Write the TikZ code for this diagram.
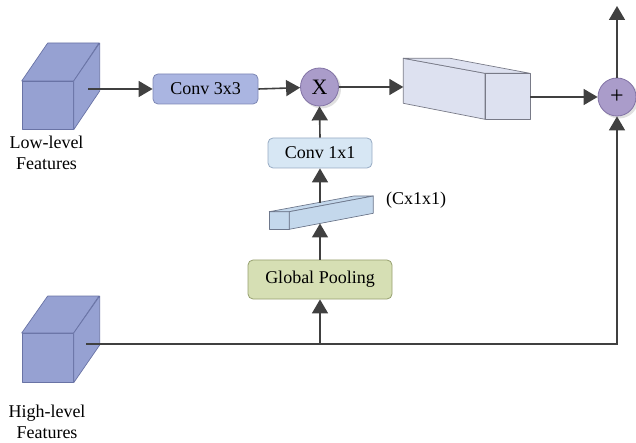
\documentclass[tikz,border=0pt]{standalone}
\usepackage{fontspec}
\setmainfont{Liberation Serif}
\usetikzlibrary{arrows.meta}
\definecolor{cubefill}{RGB}{150,161,210}
\definecolor{cubedraw}{RGB}{105,115,165}
\definecolor{convA}{RGB}{170,181,225}
\definecolor{convAd}{RGB}{125,135,180}
\definecolor{convB}{RGB}{215,231,244}
\definecolor{convBd}{RGB}{150,170,195}
\definecolor{gpfill}{RGB}{214,223,180}
\definecolor{gpdraw}{RGB}{150,160,110}
\definecolor{opfill}{RGB}{170,156,202}
\definecolor{opdraw}{RGB}{130,115,165}
\definecolor{blkfill}{RGB}{221,225,240}
\definecolor{blkdraw}{RGB}{120,122,135}
\definecolor{slabfill}{RGB}{196,216,236}
\definecolor{slabdraw}{RGB}{110,120,140}
\definecolor{arrcol}{RGB}{64,64,64}
\begin{document}
\begin{tikzpicture}[x=1pt,y=-1pt,
  every node/.style={font=\fontsize{18}{21}\selectfont},
  rbox/.style={draw, rounded corners=5pt, line width=0.8pt, inner sep=0pt},
  opcirc/.style={circle, draw=opdraw, fill=opfill, line width=0.8pt, minimum size=38pt, inner sep=0pt},
  arr/.style={draw=arrcol, line width=1.6pt, -{Triangle[length=14pt,width=16pt]}},
  plainln/.style={draw=arrcol, line width=1.6pt},
  cubeface/.style={fill=cubefill, draw=cubedraw, line width=0.7pt, line join=round},
  lbl/.style={align=center, inner sep=0pt}]
\useasboundingbox (0,0) rectangle (636,443);

% ---- low-level cube
\node[cubeface, minimum width=51.3pt, minimum height=48pt, inner sep=0pt, anchor=north west] (lowc) at (21.7,81) {};
\draw[cubeface] (lowc.north west) -- ++(26,-38) -- ++(51.3,0) -- (lowc.north east) -- cycle;
\draw[cubeface] (lowc.north east) -- ++(26,-38) -- ++(0,48) -- (lowc.south east) -- cycle;
\coordinate (lowout) at (88,89);
\node[lbl] (lowlbl) at (46.5,153) {Low-level\\Features};

% ---- high-level cube
\node[cubeface, minimum width=51.3pt, minimum height=49pt, inner sep=0pt, anchor=north west] (highc) at (21.7,333) {};
\draw[cubeface] (highc.north west) -- ++(26,-37) -- ++(51.3,0) -- (highc.north east) -- cycle;
\draw[cubeface] (highc.north east) -- ++(26,-37) -- ++(0,49) -- (highc.south east) -- cycle;
\coordinate (highout) at (86,344);
\node[lbl] (highlbl) at (47,422) {High-level\\Features};

% ---- boxes
\node[rbox, draw=convAd, fill=convA, minimum width=105pt, minimum height=30pt] (conv3) at (205.5,89) {Conv 3x3};
\node[rbox, draw=convBd, fill=convB, minimum width=104pt, minimum height=30pt] (conv1) at (320,153) {Conv 1x1};
\node[rbox, draw=gpdraw, fill=gpfill, minimum width=144pt, minimum height=39pt] (gp) at (320,279.5) {Global Pooling};

% ---- operators
\fill[black!12] (321.5,89) circle (19.5pt);
\node[opcirc, font=\fontsize{22}{24}\selectfont] (mul) at (319.5,87) {X};
\fill[black!12] (619,99) circle (19.5pt);
\node[opcirc, font=\fontsize{24}{24}\selectfont] (add) at (617,97) {+};

% ---- big feature block
\draw[fill=blkfill, draw=blkdraw, line width=0.7pt, line join=round]
  (403.3,58.3) -- (485,73.3) -- (485,119.3) -- (403.3,103.3) -- cycle;
\draw[fill=blkfill, draw=blkdraw, line width=0.7pt, line join=round]
  (403.3,58.3) -- (450,58.3) -- (530,73.3) -- (485,73.3) -- cycle;
\draw[fill=blkfill, draw=blkdraw, line width=0.7pt, line join=round]
  (485,73.3) -- (530,73.3) -- (530,119.3) -- (485,119.3) -- cycle;
\coordinate (blkin) at (403.3,87);
\coordinate (blkout) at (530,97);

% ---- slab (Cx1x1)
\draw[fill=slabfill, draw=slabdraw, line width=0.7pt, line join=round]
  (269.3,211.7) -- (289.3,211.7) -- (289.3,229.3) -- (269.3,229.3) -- cycle;
\draw[fill=slabfill, draw=slabdraw, line width=0.7pt, line join=round]
  (269.3,211.7) -- (354,196) -- (373.3,196) -- (289.3,211.7) -- cycle;
\draw[fill=slabfill, draw=slabdraw, line width=0.7pt, line join=round]
  (289.3,211.7) -- (373.3,196) -- (373.3,213.3) -- (289.3,229.3) -- cycle;
\coordinate (slabin) at (320,223.5);
\coordinate (slabout) at (320,202.6);
\node[inner sep=0pt] (slablbl) at (416,200) {(Cx1x1)};

% ---- connectors
\coordinate (junc) at (320,344);
\coordinate (corner) at (617,344);
\coordinate (top) at (617,6);
\draw[arr] (lowout) -- (conv3.west);
\draw[arr] (conv3.east) -- (mul);
\draw[arr] (mul.east) -- (blkin);
\draw[arr] (blkout) -- (add);
\draw[arr] (add.north) -- (top);
\draw[plainln] (highout) -- (junc);
\draw[arr] (junc) -- (corner) -- (add.south);
\draw[arr] (junc) -- (gp.south);
\draw[arr] (gp.north) -- (slabin);
\draw[plainln] (slabout) -- (320,196);
\draw[arr] (slabout) -- (conv1.south);
\draw[arr] (conv1.north) -- (mul.south);
\end{tikzpicture}
\end{document}
